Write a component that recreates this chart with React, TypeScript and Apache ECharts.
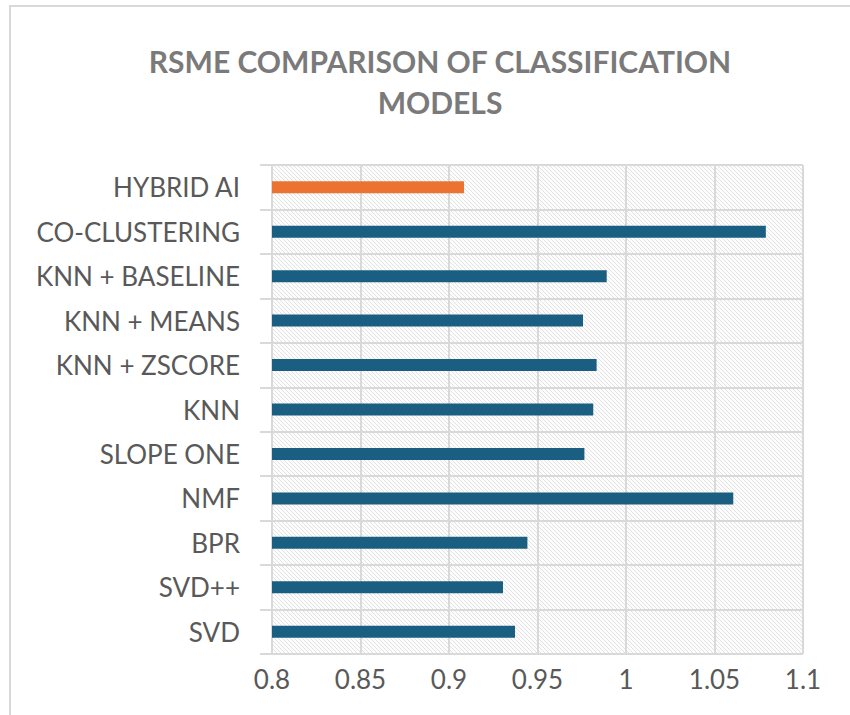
import React, { useEffect, useRef } from "react";
import * as echarts from "echarts";

const categories = [
  "SVD",
  "SVD++",
  "BPR",
  "NMF",
  "SLOPE ONE",
  "KNN",
  "KNN + ZSCORE",
  "KNN + MEANS",
  "KNN + BASELINE",
  "CO-CLUSTERING",
  "HYBRID AI",
];
const rmseValues = [0.9373, 0.9305, 0.9443, 1.0606, 0.9765, 0.9815, 0.9834, 0.9757, 0.9891, 1.079, 0.9085];
const highlightCategory = "HYBRID AI";
const xMin = 0.8;
const xMax = 1.1;
const xInterval = 0.05;
const titleLines = ["RSME COMPARISON OF CLASSIFICATION", "MODELS"];

function makeHatch() {
  const size = 4;
  const c = document.createElement("canvas");
  c.width = size;
  c.height = size;
  const ctx = c.getContext("2d")!;
  const img = ctx.createImageData(size, size);
  for (let y = 0; y < size; y++) {
    for (let x = 0; x < size; x++) {
      const i = (y * size + x) * 4;
      const on = ((x - y) % size + size) % size === 0;
      const v = on ? 226 : 253;
      img.data[i] = v;
      img.data[i + 1] = v;
      img.data[i + 2] = v;
      img.data[i + 3] = 255;
    }
  }
  ctx.putImageData(img, 0, 0);
  return c;
}

export default function App() {
  const ref = useRef<HTMLDivElement>(null);
  useEffect(() => {
    if (!ref.current) return;
    const chart = echarts.init(ref.current, undefined, { renderer: "svg" });
    const hatch = makeHatch();
    const font = "Lato, 'Open Sans', sans-serif";
    chart.setOption({
      animation: false,
      backgroundColor: "#ffffff",
      graphic: [
        {
          type: "rect",
          shape: { x: 10, y: 6, width: 900, height: 760 },
          style: { fill: "none", stroke: "#d9d9d9", lineWidth: 2 },
          silent: true,
          z: -1,
        },
        {
          type: "text",
          x: 440,
          y: 81,
          style: {
            text: titleLines.join("\n"),
            fill: "#7a7a7a",
            font: `bold 30px ${font}`,
            lineHeight: 41,
            align: "center",
            verticalAlign: "middle",
          },
        },
      ],
      grid: {
        left: 272,
        right: 47,
        top: 165,
        bottom: 61,
        show: true,
        backgroundColor: { image: hatch, repeat: "repeat" },
        borderWidth: 0,
      },
      xAxis: {
        type: "value",
        min: xMin,
        max: xMax,
        interval: xInterval,
        axisLine: { show: false },
        axisTick: { show: false },
        axisLabel: {
          color: "#595959",
          fontSize: 26,
          fontFamily: font,
          margin: 12,
          formatter: (v: number) => String(parseFloat(v.toFixed(2))),
        },
        splitLine: { show: true, lineStyle: { color: "#d9d9d9", width: 2 } },
      },
      yAxis: {
        type: "category",
        data: categories,
        axisLine: { show: true, lineStyle: { color: "#d9d9d9", width: 2 } },
        axisTick: { show: true, length: 12, lineStyle: { color: "#d9d9d9", width: 2 } },
        axisLabel: {
          color: "#595959",
          fontSize: 26,
          fontFamily: font,
          margin: 32,
        },
        splitLine: { show: true, lineStyle: { color: "#d9d9d9", width: 2 } },
      },
      series: [
        {
          type: "bar",
          barWidth: 12,
          data: rmseValues.map((v, i) => ({
            value: v,
            itemStyle: {
              color: categories[i] === highlightCategory ? "#EB7231" : "#1A5F82",
            },
          })),
        },
      ],
    });
    return () => chart.dispose();
  }, []);
  return (
    <div
      ref={ref}
      style={{ position: "fixed", left: 0, top: 0, width: 850, height: 715 }}
    />
  );
}
